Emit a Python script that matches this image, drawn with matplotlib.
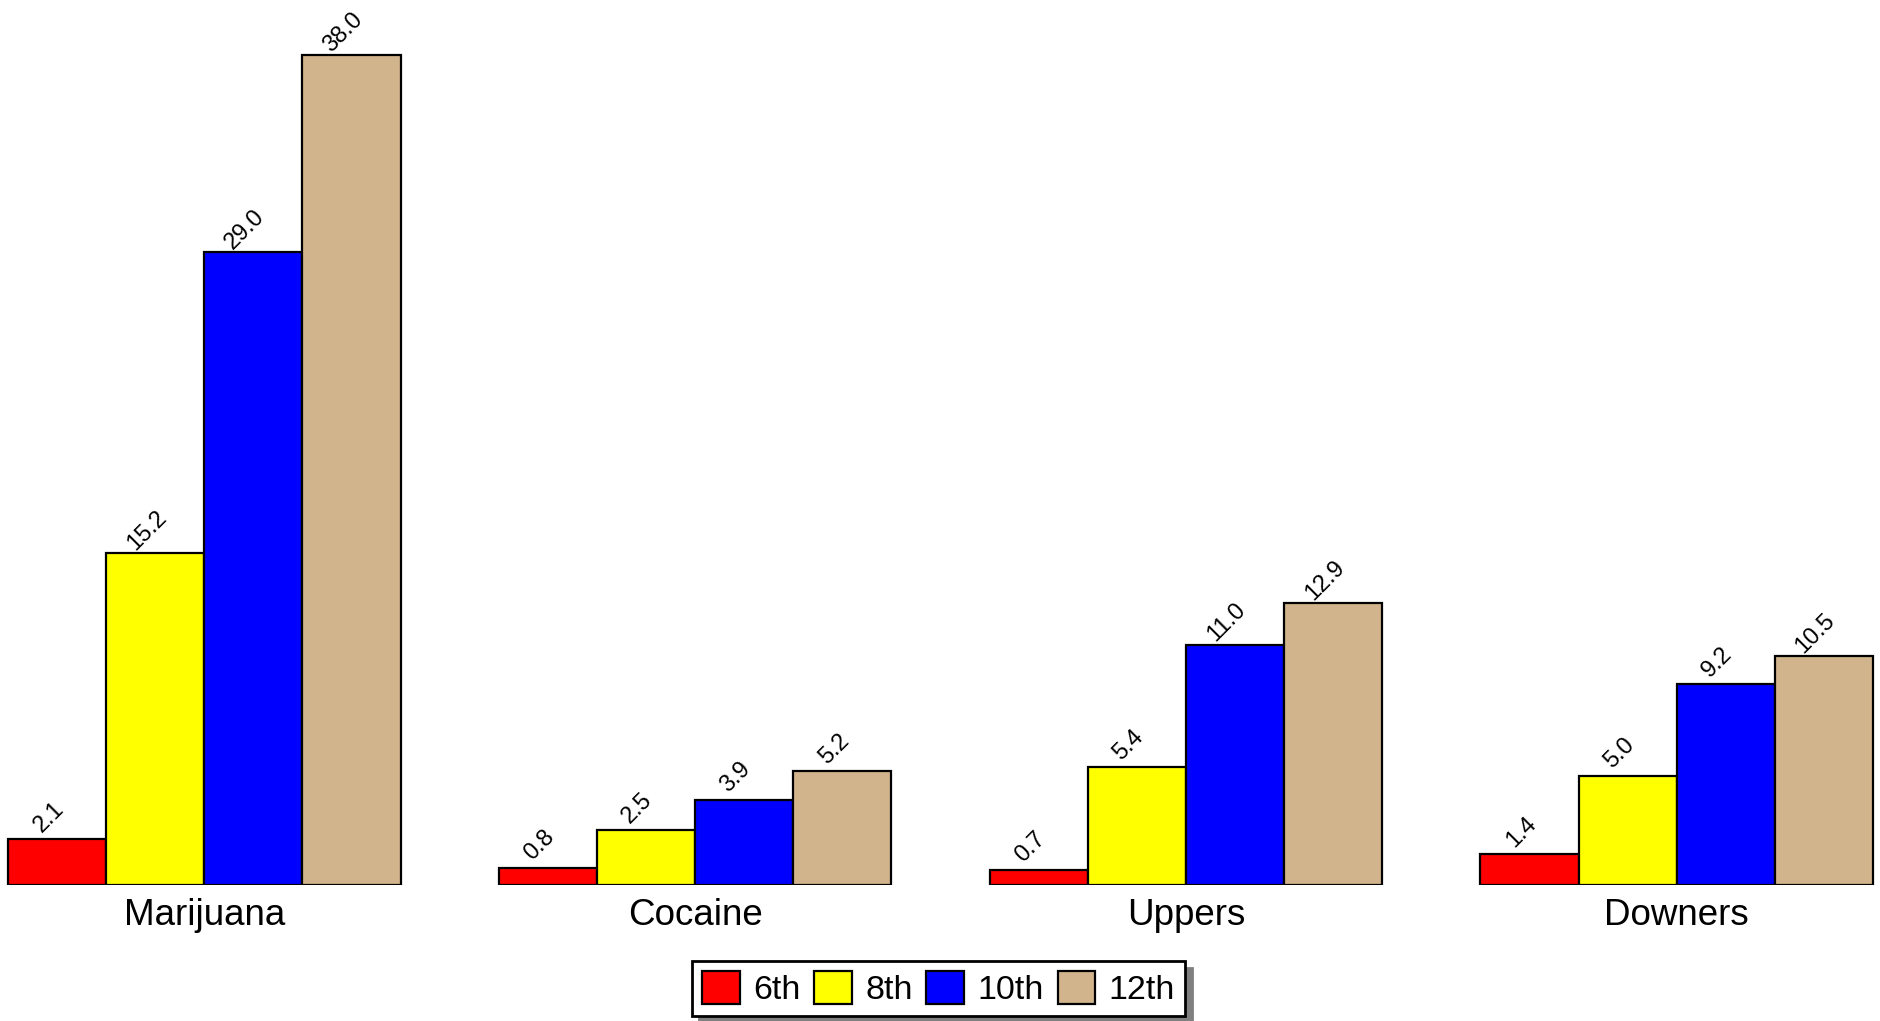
# столбчатая диаграмма: употребление веществ по классам

import numpy as np
import matplotlib.pyplot as plt

categories = ['Marijuana', 'Cocaine', 'Uppers', 'Downers']
grades = ['6th', '8th', '10th', '12th']
values_6th = [2.1, 0.8, 0.7, 1.4]
values_8th = [15.2, 2.5, 5.4, 5.0]
values_10th = [29.0, 3.9, 11.0, 9.2]
values_12th = [38.0, 5.2, 12.9, 10.5]
colors = ['#ff0000', '#ffff00', '#0000ff', '#d2b48c']

plt.rcParams['font.family'] = ['Liberation Sans', 'DejaVu Sans']

fig = plt.figure(figsize=(18.81, 10.21), dpi=100)
ax = fig.add_axes([0.0, (1021 - 885) / 1021, 1.0, 885 / 1021])

x = np.arange(len(categories))
width = 0.2
series = [values_6th, values_8th, values_10th, values_12th]

for i, (vals, col, lab) in enumerate(zip(series, colors, grades)):
    pos = x + (i - 1.5) * width
    bars = ax.bar(pos, vals, width, color=col, edgecolor='black', linewidth=1.6, label=lab)
    # подписи значений под углом 45 градусов
    for b, v in zip(bars, vals):
        ax.annotate(f'{v:.1f}', (b.get_x() + b.get_width() / 2, b.get_height()),
                    xytext=(-6, 16), textcoords='offset points',
                    ha='center', va='center', rotation=45, fontsize=17)

ax.set_xlim(-0.4163, 3.4163)
ax.set_ylim(0, 40.52)
ax.set_xticks(x)
ax.set_xticklabels(categories, fontsize=26.5)
ax.tick_params(axis='x', length=0, pad=9)
ax.set_yticks([])
for s in ax.spines.values():
    s.set_visible(False)

leg = fig.legend(loc='center', bbox_to_anchor=(0.499, 0.032), ncol=4, fontsize=24.5,
                 fancybox=False, shadow={'color': 'gray', 'alpha': 1, 'ox': 5, 'oy': -5},
                 edgecolor='black', framealpha=1, handlelength=1.1, handleheight=1.1,
                 handletextpad=0.4, columnspacing=0.4, borderpad=0.3)
leg.get_frame().set_linewidth(2)

fig.savefig('out.png', dpi=100)
